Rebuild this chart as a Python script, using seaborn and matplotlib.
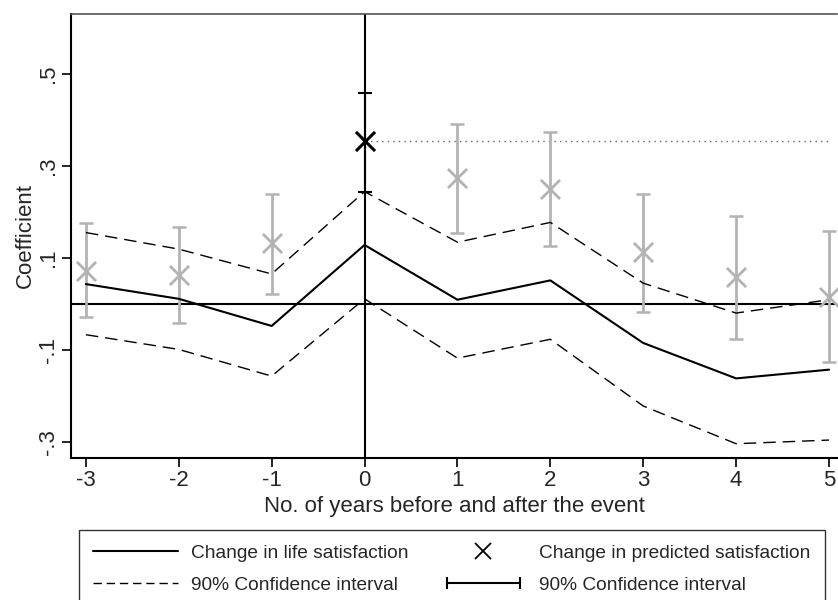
import numpy as np
import pandas as pd
import matplotlib
matplotlib.use("Agg")
import matplotlib.pyplot as plt
import seaborn as sns
from matplotlib.lines import Line2D
from matplotlib.legend_handler import HandlerLine2D

# DATA
years = [-3, -2, -1, 0, 1, 2, 3, 4, 5]
life_sat = [0.043, 0.011, -0.048, 0.128, 0.009, 0.051, -0.085, -0.162, -0.143]
life_upper = [0.155, 0.119, 0.065, 0.244, 0.134, 0.177, 0.045, -0.020, 0.009]
life_lower = [-0.067, -0.099, -0.157, 0.011, -0.118, -0.077, -0.222, -0.304, -0.296]
pred_sat = [0.072, 0.063, 0.132, 0.354, 0.273, 0.249, 0.112, 0.058, 0.016]
pred_upper = [0.175, 0.166, 0.239, 0.459, 0.391, 0.373, 0.239, 0.191, 0.159]
pred_lower = [-0.029, -0.042, 0.022, 0.244, 0.155, 0.126, -0.017, -0.077, -0.127]
ytick_vals = [-0.3, -0.1, 0.1, 0.3, 0.5]
ytick_labels = ["-.3", "-.1", ".1", ".3", ".5"]

sns.set_style("white")
plt.rcParams['font.family'] = ['Liberation Sans', 'DejaVu Sans']

df = pd.DataFrame({
    'year': years, 'life': life_sat, 'upper': life_upper, 'lower': life_lower,
    'pred': pred_sat, 'pup': pred_upper, 'plo': pred_lower,
})
df['err_lo'] = df['pred'] - df['plo']
df['err_hi'] = df['pup'] - df['pred']

fig = plt.figure(figsize=(8.38, 6.0), dpi=100)
ax = fig.add_axes([71 / 838, 142 / 600, 766 / 838, 444 / 600])

GRAY = '#b3b3b3'

# reference lines
ax.axhline(0, color='black', lw=1.5, zorder=1)
ax.axvline(0, color='black', lw=1.5, zorder=1)

# life satisfaction + CI
sns.lineplot(data=df, x='year', y='life', color='black', lw=1.5, ax=ax, zorder=3)
sns.lineplot(data=df, x='year', y='upper', color='black', lw=1.0, ax=ax,
             linestyle=(0, (9, 5)), zorder=3)
sns.lineplot(data=df, x='year', y='lower', color='black', lw=1.0, ax=ax,
             linestyle=(0, (9, 5)), zorder=3)

# predicted satisfaction: gray everywhere except year 0
other = df[df['year'] != 0]
event = df[df['year'] == 0]
ax.errorbar(other['year'], other['pred'], yerr=[other['err_lo'], other['err_hi']],
            fmt='none', ecolor=GRAY, elinewidth=2, capsize=5, capthick=1.8, zorder=2)
sns.scatterplot(data=other, x='year', y='pred', marker='x', s=190, color=GRAY,
                linewidth=2, ax=ax, zorder=4)
ax.errorbar(event['year'], event['pred'], yerr=[event['err_lo'], event['err_hi']],
            fmt='none', ecolor='black', elinewidth=1.5, capsize=5, capthick=1.5, zorder=2)
sns.scatterplot(data=event, x='year', y='pred', marker='x', s=190, color='black',
                linewidth=2.2, ax=ax, zorder=5)

# dotted line at predicted value of event year
ev_val = event['pred'].iloc[0]
ax.plot([0, 5], [ev_val, ev_val], color='#666666', lw=1, linestyle=(0, (1, 3)), zorder=1)

ax.set_xlim(-3.16, 5.086)
ax.set_ylim(-0.335, 0.630)
ax.set_xticks(years)
ax.set_xticklabels([str(y) for y in years])
ax.set_yticks(ytick_vals)
ax.set_yticklabels(ytick_labels, rotation=90, va='center')
ax.tick_params(axis='both', direction='out', length=6.5, width=1.2, labelsize=16,
               color='black', bottom=True, left=True)
ax.tick_params(axis='y', pad=2)
ax.tick_params(axis='x', pad=2)
ax.set_xlabel('No. of years before and after the event', fontsize=16, labelpad=4)
ax.set_ylabel('Coefficient', fontsize=16, labelpad=2)

for side in ['left', 'bottom']:
    ax.spines[side].set_color('black')
    ax.spines[side].set_linewidth(1.5)
ax.spines['top'].set_color('#555555')
ax.spines['top'].set_linewidth(1.2)
ax.spines['right'].set_visible(False)

# legend
h_solid = Line2D([], [], color='black', lw=1.5)
h_dash = Line2D([], [], color='black', lw=1.0, linestyle=(0, (6, 3.5)))
h_x = Line2D([], [], color='black', lw=0, marker='x', markersize=12, mew=1.3)
h_cap = Line2D([], [], color='black', lw=1.5, marker='|', markersize=9, mew=1.5)
leg = fig.legend(
    [h_solid, h_dash, h_x, h_cap],
    ['Change in life satisfaction', '90% Confidence interval',
     'Change in predicted satisfaction', '90% Confidence interval'],
    ncol=2, loc='upper left', bbox_to_anchor=(79 / 838, 70 / 600),
    fontsize=13.8, frameon=True, fancybox=False, edgecolor='black',
    handlelength=4.4, handletextpad=0.7, columnspacing=1.7,
    labelspacing=0.75, borderpad=0.75, borderaxespad=0,
    handler_map={h_cap: HandlerLine2D(numpoints=2)},
)
leg.get_frame().set_linewidth(1.0)

fig.savefig('out.png', dpi=100)
